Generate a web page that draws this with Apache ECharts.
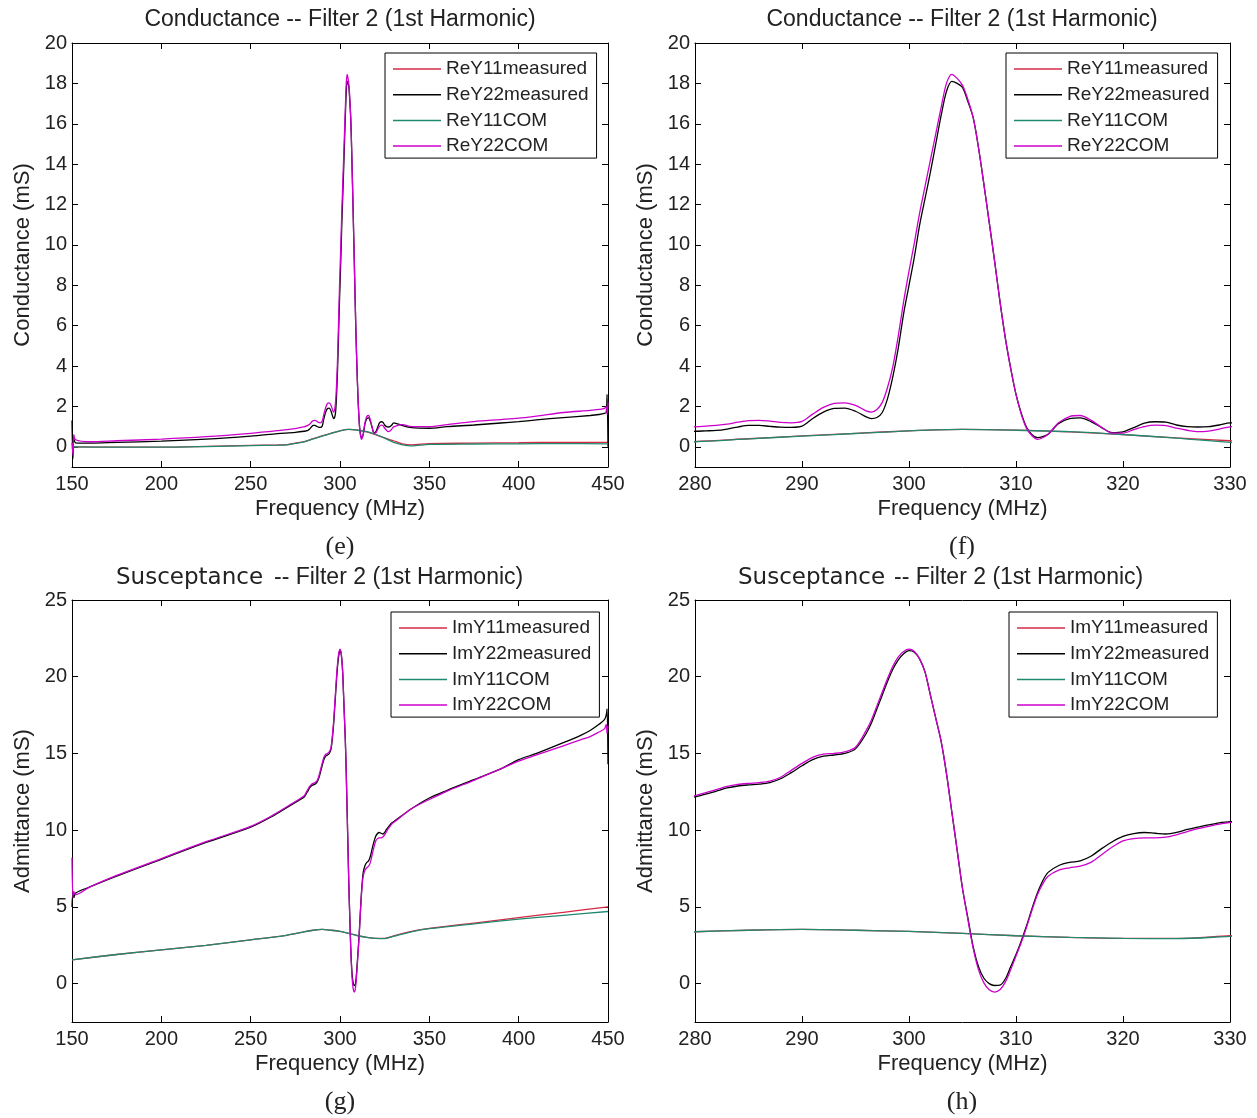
<!DOCTYPE html>
<html>
<head>
<meta charset="utf-8">
<script src="https://cdn.jsdelivr.net/npm/echarts@6/dist/echarts.min.js"></script>
<style>
html,body{margin:0;padding:0;background:#fff;}
#chart{width:1257px;height:1118px;}
</style>
</head>
<body>
<div id="chart"></div>
<script>
// ---------- DATA ----------
// Conductance, port-2 curves (MHz)
const fG = [150,150.5,151,152,160,175,200,225,250,265,275,
 280,281,282,283,284,285,286,287,288,289,290,291,292,293,294,295,296,
 296.5,297,297.5,298,298.5,299,299.5,300,300.5,301,301.5,302,302.5,303,303.5,304,304.5,305,305.5,306,306.5,307,307.5,308,308.5,309,309.5,310,310.5,311,311.5,312,312.5,
 313,314,315,316,317,318,319,320,321,322,323,324,325,326,327,328,329,330,
 335,340,350,360,375,390,400,410,425,440,445,448,449,449.5,450];
const reY22measured = [1.3,-0.6,0.4,0.2,0.18,0.22,0.28,0.38,0.53,0.65,0.72,
 0.77,0.79,0.81,0.88,0.98,1.06,1.06,1.01,0.97,0.96,1.02,1.40,1.72,1.90,1.92,1.76,1.48,
 1.40,1.45,1.70,2.40,3.50,4.90,6.60,8.00,9.40,11.0,12.3,13.6,15.0,16.4,17.6,18.1,18.0,17.8,17.1,16.3,14.8,13.0,11.1,9.2,7.2,5.4,3.9,2.6,1.65,0.95,0.6,0.45,0.5,
 0.62,1.15,1.4,1.43,1.25,0.95,0.7,0.74,0.95,1.17,1.24,1.22,1.08,1.0,0.98,1.0,1.08,1.19,
 1.05,0.95,0.92,1.0,1.08,1.18,1.25,1.33,1.45,1.55,1.6,1.65,1.7,2.6,0.0];
const reY22COM = [0.2,-0.4,0.6,0.35,0.25,0.3,0.38,0.5,0.67,0.8,0.9,
 0.99,1.02,1.06,1.12,1.22,1.3,1.31,1.27,1.21,1.19,1.26,1.62,1.95,2.15,2.18,2.05,1.78,
 1.72,1.85,2.2,2.95,4.0,5.5,7.2,8.7,10.1,11.6,12.9,14.2,15.5,16.8,18.0,18.45,18.25,17.9,17.2,16.3,14.8,13.0,11.1,9.2,7.2,5.4,3.9,2.6,1.6,0.9,0.55,0.37,0.45,
 0.62,1.2,1.5,1.55,1.32,0.97,0.68,0.68,0.85,1.0,1.07,1.05,0.92,0.82,0.75,0.78,0.88,0.99,
 1.1,1.0,1.0,1.1,1.25,1.35,1.42,1.52,1.7,1.8,1.85,1.9,2.0,1.6,2.2];
// Conductance, port-1 curves
const fGlow = [150,175,200,225,250,265,270,275,280,285,290,295,300,305,310,315,320,325,330,335,340,350,375,400,425,450];
const reY11measured = [0.0,-0.02,-0.02,0.02,0.07,0.09,0.1,0.18,0.26,0.4,0.54,0.67,0.79,0.86,0.83,0.74,0.6,0.44,0.3,0.15,0.1,0.16,0.18,0.2,0.22,0.22];
const reY11COM      = [0.0,-0.02,-0.02,0.01,0.06,0.08,0.1,0.17,0.25,0.39,0.53,0.66,0.79,0.86,0.82,0.75,0.61,0.43,0.22,0.1,0.05,0.12,0.14,0.15,0.16,0.15];
// Susceptance, port-2 curves
const fB = [150,150.5,151,152,160,175,200,225,250,262,272,
 280,281,282,283,284,285,286,287,288,289,290,291,292,293,294,295,296,
 296.5,297,297.5,298,298.5,299,299.5,300,300.5,301,301.5,302,302.5,303,303.5,304,304.5,305,305.5,306,306.5,307,307.5,308,308.5,309,309.5,310,310.5,311,311.5,312,312.5,
 313,314,315,316,317,318,319,320,321,322,323,324,325,326,327,328,329,330,
 340,350,360,375,390,400,410,425,435,440,445,448,449,449.5,450];
const imY22measured = [5.0,5.9,5.6,5.9,6.3,7.0,8.1,9.2,10.2,10.9,11.6,
 12.17,12.35,12.55,12.75,12.88,12.95,13.0,13.1,13.35,13.75,14.2,14.6,14.82,14.9,15.0,15.3,16.3,
 17.0,17.9,18.8,19.7,20.5,21.1,21.5,21.7,21.6,21.15,20.3,18.8,17.3,15.8,13.7,11.2,8.7,6.2,4.3,2.4,1.1,0.35,0.0,-0.12,-0.1,0.3,1.1,1.9,2.8,3.8,4.9,5.9,6.7,
 7.25,7.7,7.9,8.0,8.3,8.8,9.25,9.6,9.78,9.85,9.8,9.75,9.85,10.05,10.2,10.35,10.48,10.55,
 11.4,12.1,12.6,13.3,14.0,14.6,15.0,15.7,16.2,16.5,16.9,17.2,17.5,17.9,14.3];
const imY22COM = [8.2,5.6,6.0,5.8,6.3,7.05,8.15,9.25,10.25,10.95,11.65,
 12.25,12.45,12.65,12.85,12.98,13.05,13.1,13.2,13.45,13.9,14.35,14.75,14.95,15.0,15.1,15.4,16.5,
 17.2,18.1,19.0,19.9,20.7,21.3,21.65,21.8,21.65,21.15,20.3,18.8,17.3,15.8,13.7,11.2,8.7,6.2,4.2,2.3,0.9,0.05,-0.4,-0.55,-0.4,0.1,0.9,1.8,2.7,3.7,4.8,5.8,6.5,
 7.0,7.4,7.55,7.65,7.9,8.4,8.9,9.3,9.45,9.5,9.5,9.55,9.7,9.9,10.1,10.25,10.4,10.5,
 11.4,12.0,12.55,13.25,14.0,14.5,14.9,15.5,15.9,16.1,16.4,16.6,16.9,16.3,16.8];
// Susceptance, port-1 curves
const fBlow = [150,175,200,225,250,270,280,285,290,295,300,305,310,315,320,325,330,340,350,375,400,425,450];
const imY11measured = [1.55,1.9,2.2,2.5,2.85,3.15,3.38,3.48,3.53,3.48,3.4,3.27,3.12,3.02,2.95,2.95,3.12,3.4,3.6,3.95,4.3,4.65,5.0];
const imY11COM      = [1.55,1.9,2.2,2.5,2.85,3.15,3.38,3.48,3.53,3.48,3.4,3.27,3.12,3.02,2.95,2.93,3.08,3.38,3.58,3.9,4.2,4.45,4.7];

// Tick labels
const condTicks = [0,2,4,6,8,10,12,14,16,18,20];
const suscTicks = [0,5,10,15,20,25];
const reNames = ['ReY11measured','ReY22measured','ReY11COM','ReY22COM'];
const imNames = ['ImY11measured','ImY22measured','ImY11COM','ImY22COM'];

// ---------- CHART ----------
const FONT = '"Liberation Sans", Arial, sans-serif';
const COLORS = ['#d42a45', '#000000', '#1f8a70', '#cc00cc'];
const zip = (xs, ys) => xs.map((x, i) => [x, ys[i]]);

const panels = [
  {rect:{left:72, top:43, width:536, height:424}, x:[150,450,50], y:[-1,20], ticks:condTicks, yName:'Conductance (mS)', names:reNames,
   data:[zip(fGlow,reY11measured), zip(fG,reY22measured), zip(fGlow,reY11COM), zip(fG,reY22COM)], legend:{left:385, top:53}},
  {rect:{left:695, top:43, width:535, height:424}, x:[280,330,10], y:[-1,20], ticks:condTicks, yName:'Conductance (mS)', names:reNames,
   data:[zip(fGlow,reY11measured), zip(fG,reY22measured), zip(fGlow,reY11COM), zip(fG,reY22COM)], legend:{left:1006, top:53}},
  {rect:{left:72, top:600, width:536, height:422}, x:[150,450,50], y:[-2.5,25], ticks:suscTicks, yName:'Admittance (mS)', names:imNames,
   data:[zip(fBlow,imY11measured), zip(fB,imY22measured), zip(fBlow,imY11COM), zip(fB,imY22COM)], legend:{left:391, top:612}},
  {rect:{left:695, top:600, width:535, height:422}, x:[280,330,10], y:[-2.5,25], ticks:suscTicks, yName:'Admittance (mS)', names:imNames,
   data:[zip(fBlow,imY11measured), zip(fB,imY22measured), zip(fBlow,imY11COM), zip(fB,imY22COM)], legend:{left:1009, top:612}}
];

const grid = [], xAxis = [], yAxis = [], series = [], legend = [];
panels.forEach((p, i) => {
  grid.push(Object.assign({containLabel:false}, p.rect));
  const axLine = {show:true, onZero:false, lineStyle:{color:'#000', width:1}};
  const tickStyle = {color:'#000', width:1};
  // bottom x axis
  xAxis.push({type:'value', gridIndex:i, position:'bottom', min:p.x[0], max:p.x[1], interval:p.x[2],
    axisLine:axLine, axisTick:{inside:true, length:6, lineStyle:tickStyle},
    axisLabel:{fontSize:20, color:'#222', margin:7, fontFamily:FONT, showMinLabel:true, showMaxLabel:true},
    splitLine:{show:false},
    name:'Frequency (MHz)', nameLocation:'middle', nameGap:31,
    nameTextStyle:{fontSize:22, color:'#222', fontFamily:FONT}});
  // top x axis (ticks only)
  xAxis.push({type:'value', gridIndex:i, position:'top', min:p.x[0], max:p.x[1], interval:p.x[2],
    axisLine:axLine, axisTick:{inside:true, length:6, lineStyle:tickStyle},
    axisLabel:{show:false}, splitLine:{show:false}});
  // left y axis
  yAxis.push({type:'value', gridIndex:i, position:'left', min:p.y[0], max:p.y[1],
    axisLine:axLine, axisTick:{inside:true, length:6, lineStyle:tickStyle, customValues:p.ticks},
    axisLabel:{fontSize:20, color:'#222', margin:5, fontFamily:FONT, customValues:p.ticks},
    splitLine:{show:false},
    name:p.yName, nameLocation:'middle', nameGap:38,
    nameTextStyle:{fontSize:22, color:'#222', fontFamily:FONT}});
  // right y axis (ticks only)
  yAxis.push({type:'value', gridIndex:i, position:'right', min:p.y[0], max:p.y[1],
    axisLine:axLine, axisTick:{inside:true, length:6, lineStyle:tickStyle, customValues:p.ticks},
    axisLabel:{show:false}, splitLine:{show:false}});
  p.names.forEach((nm, k) => {
    series.push({type:'line', name:nm, xAxisIndex:2*i, yAxisIndex:2*i, data:p.data[k],
      symbol:'none', smooth:0.3, clip:true, color:COLORS[k],
      lineStyle:{color:COLORS[k], width:1.3}, emphasis:{disabled:true}});
  });
  legend.push({orient:'vertical', left:p.legend.left, top:p.legend.top, data:p.names,
    icon:'rect', itemWidth:48, itemHeight:1.5, itemGap:5.7,
    padding:[6,8,2,8], backgroundColor:'#fff', borderColor:'#000', borderWidth:1, borderRadius:0,
    textStyle:{fontSize:19, lineHeight:20, color:'#222', fontFamily:FONT}, selectedMode:false});
});

const txt = (x, y, text, font, align) => ({type:'text', x:x, y:y, silent:true,
  style:{text:text, font:font, fill:'#222', align:align || 'center', verticalAlign:'middle'}});
const TITLE_FONT = '23px "Liberation Sans", Arial, sans-serif';
const SUSC_FONT = '23px "DejaVu Sans", sans-serif';
const CAP_FONT = '26px "Liberation Serif", "Times New Roman", serif';
const graphic = [
  txt(340, 20, 'Conductance -- Filter 2 (1st Harmonic)', TITLE_FONT),
  txt(962, 20, 'Conductance -- Filter 2 (1st Harmonic)', TITLE_FONT),
  txt(116, 578, 'Susceptance', SUSC_FONT, 'left'),
  txt(274, 578, '-- Filter 2 (1st Harmonic)', TITLE_FONT, 'left'),
  txt(738, 578, 'Susceptance', SUSC_FONT, 'left'),
  txt(894, 578, '-- Filter 2 (1st Harmonic)', TITLE_FONT, 'left'),
  txt(340, 547, '(e)', CAP_FONT),
  txt(962, 547, '(f)', CAP_FONT),
  txt(340, 1102, '(g)', CAP_FONT),
  txt(962, 1102, '(h)', CAP_FONT)
];

const chart = echarts.init(document.getElementById('chart'), null, {renderer:'canvas'});
chart.setOption({
  backgroundColor:'#fff',
  animation:false,
  grid:grid, xAxis:xAxis, yAxis:yAxis, series:series, legend:legend, graphic:graphic
});
</script>
</body>
</html>
